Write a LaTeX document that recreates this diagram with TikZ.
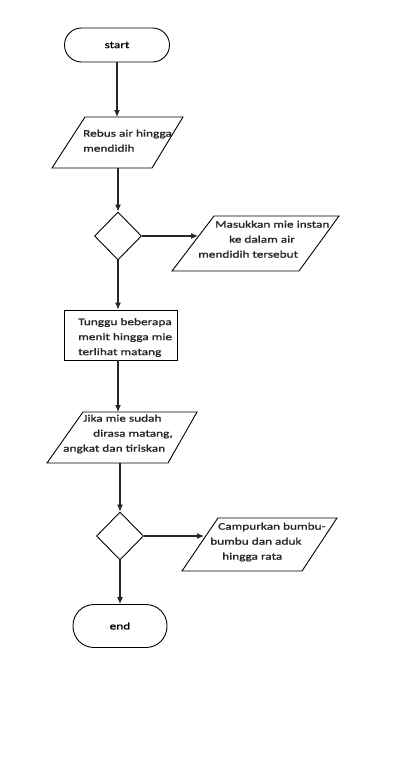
\documentclass[tikz,border=0pt]{standalone}
\usepackage{fontspec}
\newfontfamily\flowfont[FakeStretch=1.33, FakeBold=1.2]{Carlito}
\usetikzlibrary{arrows.meta, shapes.geometric, positioning}

\begin{document}
\begin{tikzpicture}[
    x=1pt, y=-1pt, % picture in pixel units, y going down
    >=Latex, % Set default arrow tip style
    flow/.style={->, line width=1.1pt, draw=black!85, >={Latex[length=7pt, width=6pt]}}, % Style for connectors
    terminal/.style={draw, line width=0.9pt, rectangle, rounded corners=#1, inner sep=0pt}, % Style for start and end
    decision/.style={draw, line width=0.9pt, diamond, minimum width=47pt, minimum height=48pt, inner sep=0pt}, % Style for decisions
    process/.style={draw, line width=0.9pt, rectangle, minimum width=113pt, minimum height=50pt, inner sep=0pt}, % Style for process box
    iobox/.style={draw, line width=0.9pt}, % Style for parallelograms
    txt/.style={font=\flowfont\fontsize{10}{15}\selectfont, text=black!85, align=left, anchor=north west, inner sep=0pt} % Style for texts
]

    \useasboundingbox[fill=white] (0,0) rectangle (400,764);

    % --- Terminals ---
    \node[terminal=17pt, minimum width=105pt, minimum height=34pt, font=\flowfont\fontsize{10}{12}\selectfont] (start) at (117,45) {start};
    \node[terminal=21pt, minimum width=94pt, minimum height=43pt, font=\flowfont\fontsize{10}{12}\selectfont] (end) at (120,626) {end};

    % --- Decisions ---
    \node[decision] (d1) at (118,236) {};
    \node[decision] (d2) at (120,536) {};

    % --- Process ---
    \node[process] (wait) at (120.5,335) {};
    \node[txt] (waittxt) at (78,318) {Tunggu beberapa\\menit hingga mie\\terlihat matang};

    % --- Input / output boxes ---
    \draw[iobox] (85,117) -- (183,117) -- (152,168) -- (52,168) -- cycle;
    \node[txt] (p1) at (83,129.5) {Rebus air hingga\\mendidih};
    \coordinate (p1top) at (117,117);
    \coordinate (p1bot) at (118,168);

    \draw[iobox] (214,216) -- (339,216) -- (299,271) -- (172,271) -- cycle;
    \node[txt] (p2) at (198,220.5) {\hspace*{17pt}Masukkan mie instan\\\hspace*{31pt}ke dalam air\\mendidih tersebut};
    \coordinate (p2left) at (198,236);

    \draw[iobox] (83,412) -- (197,412) -- (168,463) -- (47,463) -- cycle;
    \node[txt] (p3) at (63,414.5) {\hspace*{20pt}Jika mie sudah\\\hspace*{30pt}dirasa matang,\\angkat dan tiriskan};
    \coordinate (p3top) at (118,412);
    \coordinate (p3bot) at (120,463);

    \draw[iobox] (218,518) -- (337,518) -- (302,571) -- (182,571) -- cycle;
    \node[txt] (p4) at (210,522.5) {\hspace*{8pt}Campurkan bumbu-\\bumbu dan aduk\\\hspace*{12pt}hingga rata};
    \coordinate (p4left) at (204,536);

    % --- Connectors ---
    \draw[flow] (start.south) -- (p1top);
    \draw[flow] (p1bot) -- (d1.north);
    \draw[flow] (d1.east) -- (p2left);
    \draw[flow] (d1.south) -- (d1.south |- wait.north);
    \draw[flow] (wait.south -| d1) -- (p3top);
    \draw[flow] (p3bot) -- (d2.north);
    \draw[flow] (d2.east) -- (p4left);
    \draw[flow] (d2.south) -- (end.north);

\end{tikzpicture}
\end{document}
